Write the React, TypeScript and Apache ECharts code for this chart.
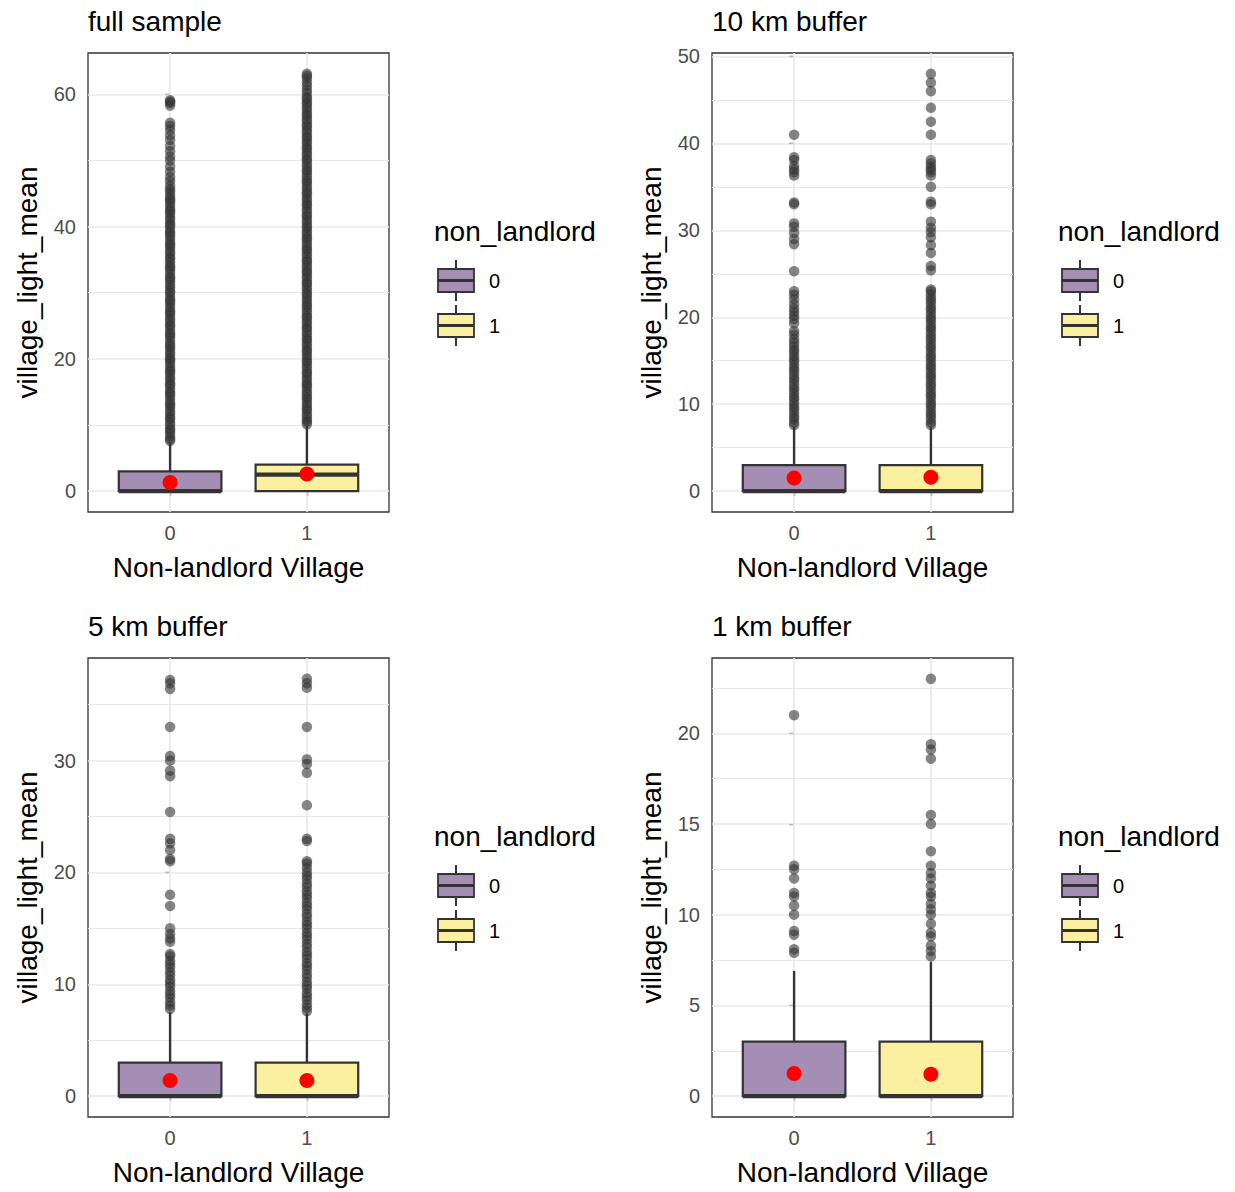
import React, { useEffect, useRef } from "react";
import * as echarts from "echarts";

// ---- data -------------------------------------------------------------
const groupLabels = ["0", "1"];
const groupColors = ["#A58EB3", "#FBF0A0"];
const panelTitles = ["full sample", "10 km buffer", "5 km buffer", "1 km buffer"];
const yTickValues = [
  [0, 20, 40, 60],
  [0, 10, 20, 30, 40, 50],
  [0, 10, 20, 30],
  [0, 5, 10, 15, 20],
];

// box statistics per group: [lower whisker, Q1, median, Q3, upper whisker]
const fullSampleBoxes = [
  [0, 0, 0, 3.0, 7.4],
  [0, 0, 2.5, 4.0, 9.9],
];
const buffer10Boxes = [
  [0, 0, 0, 3.0, 7.4],
  [0, 0, 0, 3.0, 7.4],
];
const buffer5Boxes = [
  [0, 0, 0, 3.0, 7.5],
  [0, 0, 0, 3.0, 7.4],
];
const buffer1Boxes = [
  [0, 0, 0, 3.0, 6.9],
  [0, 0, 0, 3.0, 7.4],
];

// group means
const fullSampleMeans = [1.3, 2.6];
const buffer10Means = [1.5, 1.6];
const buffer5Means = [1.4, 1.4];
const buffer1Means = [1.25, 1.2];

// outliers
const fullSampleOut0 = [
  7.6, 7.9, 8.3, 8.8, 9.2, 9.5, 10.0, 10.4, 10.9, 11.2, 11.7, 12.1, 12.6, 13.0, 13.3, 13.8, 14.3, 14.7, 15.0,
  15.5, 16.0, 16.3, 16.8, 17.2, 17.7, 18.1, 18.4, 18.9, 19.4, 19.8, 20.1, 20.6, 21.0, 21.5, 21.9, 22.2, 22.7,
  23.2, 23.6, 23.9, 24.4, 24.9, 25.2, 25.7, 26.1, 26.6, 27.0, 27.3, 27.8, 28.3, 28.7, 29.0, 29.5, 30.0, 30.3,
  30.8, 31.2, 31.7, 32.1, 32.4, 32.9, 33.4, 33.8, 34.1, 34.6, 35.1, 35.4, 35.9, 36.3, 36.8, 37.2, 37.5, 38.0,
  38.5, 38.9, 39.2, 39.7, 40.2, 40.5, 41.0, 41.4, 41.9, 42.3, 42.6, 43.1, 43.6, 44.0, 44.3, 44.8, 45.3, 45.7,
  46.2, 46.9, 47.5, 48.3, 49.1, 50.0, 50.6, 51.4, 52.2, 53.1, 53.8, 54.6, 55.2, 55.7, 58.3, 58.7, 58.9, 59.1,
];
const fullSampleOut1 = [
  10.1, 10.5, 10.8, 11.3, 11.7, 12.2, 12.5, 13.0, 13.4, 13.9, 14.2, 14.7, 15.1, 15.6, 16.0, 16.3, 16.8, 17.2,
  17.7, 18.0, 18.5, 18.9, 19.4, 19.7, 20.2, 20.6, 21.1, 21.4, 21.9, 22.3, 22.8, 23.1, 23.6, 24.0, 24.5, 24.8,
  25.3, 25.7, 26.2, 26.5, 27.0, 27.4, 27.9, 28.2, 28.7, 29.1, 29.6, 29.9, 30.4, 30.8, 31.3, 31.6, 32.1, 32.5,
  33.0, 33.3, 33.8, 34.2, 34.7, 35.0, 35.5, 35.9, 36.4, 36.7, 37.2, 37.6, 38.1, 38.4, 38.9, 39.3, 39.8, 40.1,
  40.6, 41.0, 41.5, 41.8, 42.3, 42.7, 43.2, 43.5, 44.0, 44.4, 44.9, 45.2, 45.7, 46.1, 46.6, 46.9, 47.4, 47.8,
  48.3, 48.6, 49.1, 49.5, 50.0, 50.3, 50.8, 51.2, 51.7, 52.0, 52.5, 52.9, 53.4, 53.7, 54.2, 54.6, 55.1, 55.4,
  55.9, 56.3, 56.8, 57.1, 57.6, 58.0, 58.5, 58.8, 59.3, 59.6, 60.2, 60.7, 61.3, 61.8, 62.4, 62.8, 63.1,
];
const buffer10Out0 = [
  7.6, 7.9, 8.3, 8.6, 9.0, 9.4, 9.7, 10.1, 10.5, 10.8, 11.2, 11.6, 11.9, 12.3, 12.7, 13.0, 13.4, 13.8, 14.1,
  14.5, 14.9, 15.2, 15.6, 16.0, 16.3, 16.7, 17.1, 17.5, 18.0, 18.4, 19.3, 19.8, 20.2, 20.6, 21.0, 21.5, 22.1,
  22.6, 23.0, 25.3, 28.4, 29.0, 29.7, 30.4, 30.8, 33.0, 33.2, 36.3, 36.7, 37.0, 37.4, 38.1, 38.4, 41.0,
];
const buffer10Out1 = [
  7.6, 7.9, 8.3, 8.7, 9.0, 9.4, 9.8, 10.1, 10.5, 10.9, 11.2, 11.6, 12.0, 12.3, 12.7, 13.1, 13.4, 13.8, 14.2,
  14.5, 14.9, 15.3, 15.6, 16.0, 16.4, 16.7, 17.1, 17.5, 17.8, 18.2, 18.6, 18.9, 19.3, 19.7, 20.0, 20.4, 20.8,
  21.1, 21.5, 21.9, 22.2, 22.6, 23.0, 23.2, 25.4, 25.9, 27.4, 28.3, 29.2, 29.8, 30.3, 31.0, 33.0, 33.3, 35.0,
  36.3, 36.7, 37.0, 37.3, 37.7, 38.1, 41.0, 42.5, 44.1, 46.0, 47.0, 48.0,
];
const buffer5Out0 = [
  7.8, 8.1, 8.4, 8.8, 9.1, 9.4, 9.8, 10.1, 10.4, 10.8, 11.1, 11.5, 11.8, 12.1, 12.5, 12.7, 13.8, 14.1, 14.5,
  15.0, 17.0, 18.0, 21.0, 21.2, 22.0, 22.6, 23.0, 25.4, 28.6, 29.1, 30.0, 30.4, 33.0, 36.4, 36.9, 37.2,
];
const buffer5Out1 = [
  7.6, 7.9, 8.2, 8.6, 8.9, 9.2, 9.6, 9.9, 10.2, 10.6, 10.9, 11.3, 11.6, 11.9, 12.3, 12.6, 12.9, 13.3, 13.6,
  14.0, 14.3, 14.6, 15.0, 15.3, 15.6, 16.0, 16.3, 16.7, 17.0, 17.3, 17.7, 18.0, 18.3, 18.7, 19.0, 19.4, 19.7,
  20.0, 20.4, 20.8, 21.0, 22.8, 23.0, 26.0, 28.9, 29.7, 30.1, 33.0, 36.5, 36.9, 37.3,
];
const buffer1Out0 = [7.9, 8.1, 8.9, 9.1, 10.0, 10.5, 11.0, 11.2, 12.0, 12.5, 12.7, 21.0];
const buffer1Out1 = [
  7.7, 8.0, 8.3, 8.8, 9.0, 9.5, 10.0, 10.3, 10.6, 11.0, 11.2, 11.6, 12.0, 12.3, 12.7, 13.5, 15.0, 15.5, 18.6,
  19.1, 19.4, 23.0,
];

const panelBoxes = [fullSampleBoxes, buffer10Boxes, buffer5Boxes, buffer1Boxes];
const panelMeans = [fullSampleMeans, buffer10Means, buffer5Means, buffer1Means];
const panelOutliers = [
  [fullSampleOut0, fullSampleOut1],
  [buffer10Out0, buffer10Out1],
  [buffer5Out0, buffer5Out1],
  [buffer1Out0, buffer1Out1],
];

// ---- layout / style ---------------------------------------------------
const FONT = "'Liberation Sans', Arial, Helvetica, sans-serif";
const COL_LEFT = [88, 712];
const ROW_TOP = [53, 658];
const PLOT_W = 301;
const PLOT_H = 459;
const BOX_HALF = 0.375;
const INK = "#333333";
const GRID_COLOR = "#E8E8E8";

function panelPos(i: number) {
  return { left: COL_LEFT[i % 2], top: ROW_TOP[Math.floor(i / 2)] };
}

function buildOption() {
  const grids: any[] = [];
  const xAxes: any[] = [];
  const yAxes: any[] = [];
  const series: any[] = [];
  const titles: any[] = [];
  const graphics: any[] = [];

  panelTitles.forEach((title, i) => {
    const { left, top } = panelPos(i);
    const outs = panelOutliers[i];
    const boxes = panelBoxes[i];
    const allVals = [...outs[0], ...outs[1], ...boxes.flat()];
    const lo = Math.min(...allVals);
    const hi = Math.max(...allVals);
    const pad = (hi - lo) * 0.05;
    const yMin = lo - pad;
    const yMax = hi + pad;
    const ticks = yTickValues[i];
    const step = ticks[1] - ticks[0];
    const minor: number[] = [];
    for (let k = 0; k < ticks.length + 1; k++) {
      const m = ticks[0] - step / 2 + k * step;
      if (m > yMin && m < yMax) minor.push(m);
    }

    grids.push({
      left,
      top,
      width: PLOT_W,
      height: PLOT_H,
      show: true,
      backgroundColor: "#ffffff",
      borderColor: INK,
      borderWidth: 1.3,
    });

    xAxes.push({
      gridIndex: i,
      type: "value",
      min: -0.6,
      max: 1.6,
      axisLine: { show: false },
      splitLine: { show: false },
      axisTick: {
        show: true,
        customValues: [0, 1],
        length: 5,
        lineStyle: { color: INK, width: 1.3 },
      },
      axisLabel: {
        customValues: [0, 1],
        formatter: (v: number) => groupLabels[Math.round(v)] ?? "",
        color: "#4D4D4D",
        fontSize: 20,
        fontFamily: FONT,
        margin: 11,
      },
      name: "Non-landlord Village",
      nameLocation: "middle",
      nameGap: 41,
      nameTextStyle: { fontSize: 28, color: "#000", fontFamily: FONT },
    });

    yAxes.push({
      gridIndex: i,
      type: "value",
      min: yMin,
      max: yMax,
      axisLine: { show: false },
      splitLine: { show: false },
      axisTick: {
        show: true,
        customValues: ticks,
        length: 5,
        lineStyle: { color: INK, width: 1.3 },
      },
      axisLabel: {
        customValues: ticks,
        color: "#4D4D4D",
        fontSize: 20,
        fontFamily: FONT,
        margin: 12,
      },
      name: "village_light_mean",
      nameLocation: "middle",
      nameGap: 47,
      nameTextStyle: { fontSize: 28, color: "#000", fontFamily: FONT },
    });

    // panel grid lines (kept underneath every mark)
    series.push({
      type: "scatter",
      xAxisIndex: i,
      yAxisIndex: i,
      data: [],
      z: 1,
      silent: true,
      markLine: {
        z: 1,
        silent: true,
        symbol: ["none", "none"],
        label: { show: false },
        animation: false,
        data: [
          ...minor.map((v) => ({ yAxis: v, lineStyle: { color: GRID_COLOR, width: 1, type: "solid" } })),
          ...ticks.map((v) => ({ yAxis: v, lineStyle: { color: GRID_COLOR, width: 1.6, type: "solid" } })),
          ...[0, 1].map((v) => ({ xAxis: v, lineStyle: { color: GRID_COLOR, width: 1.6, type: "solid" } })),
        ],
      },
    });

    // outliers
    outs.forEach((vals, g) => {
      series.push({
        type: "scatter",
        xAxisIndex: i,
        yAxisIndex: i,
        z: 2,
        symbol: "circle",
        symbolSize: 10.5,
        itemStyle: { color: INK, opacity: 0.6 },
        data: vals.map((v) => [g, v]),
      });
    });

    // boxes
    series.push({
      type: "custom",
      xAxisIndex: i,
      yAxisIndex: i,
      z: 3,
      encode: { x: 0, y: [1, 2, 3, 4, 5] },
      data: boxes.map((b, g) => [g, ...b]),
      renderItem: (params: any, api: any) => {
        const x = api.value(0);
        const low = api.value(1);
        const q1 = api.value(2);
        const med = api.value(3);
        const q3 = api.value(4);
        const high = api.value(5);
        const tl = api.coord([x - BOX_HALF, q3]);
        const br = api.coord([x + BOX_HALF, q1]);
        const pHigh = api.coord([x, high]);
        const pLow = api.coord([x, low]);
        const pQ3 = api.coord([x, q3]);
        const pQ1 = api.coord([x, q1]);
        const m0 = api.coord([x - BOX_HALF, med]);
        const m1 = api.coord([x + BOX_HALF, med]);
        const color = groupColors[params.dataIndex];
        return {
          type: "group",
          children: [
            {
              type: "line",
              shape: { x1: pHigh[0], y1: pHigh[1], x2: pQ3[0], y2: pQ3[1] },
              style: { stroke: INK, lineWidth: 2.4 },
            },
            {
              type: "line",
              shape: { x1: pLow[0], y1: pLow[1], x2: pQ1[0], y2: pQ1[1] },
              style: { stroke: INK, lineWidth: 2.4 },
            },
            {
              type: "rect",
              shape: { x: tl[0], y: tl[1], width: br[0] - tl[0], height: br[1] - tl[1] },
              style: { fill: color, stroke: INK, lineWidth: 2.2 },
            },
            {
              type: "line",
              shape: { x1: m0[0], y1: m0[1], x2: m1[0], y2: m1[1] },
              style: { stroke: INK, lineWidth: 4.4 },
            },
          ],
        };
      },
    });

    // group means
    series.push({
      type: "scatter",
      xAxisIndex: i,
      yAxisIndex: i,
      z: 4,
      symbol: "circle",
      symbolSize: 15,
      itemStyle: { color: "#FF0000", opacity: 1 },
      data: panelMeans[i].map((m, g) => [g, m]),
    });

    titles.push({
      text: title,
      left,
      top: top - 46,
      padding: 0,
      textStyle: { fontSize: 28, fontWeight: "normal", color: "#000", fontFamily: FONT },
    });

    // legend
    const lx = left + 346;
    const ly = top + 178;
    graphics.push({
      type: "text",
      x: lx,
      y: ly,
      style: {
        text: "non_landlord",
        fontSize: 28,
        fontFamily: FONT,
        fill: "#000",
        align: "left",
        verticalAlign: "middle",
      },
    });
    groupLabels.forEach((lab, g) => {
      const ky = ly + 38 + g * 45;
      const kx = lx + 4;
      graphics.push({
        type: "group",
        x: kx,
        y: ky,
        children: [
          { type: "line", shape: { x1: 18, y1: -9, x2: 18, y2: 0 }, style: { stroke: INK, lineWidth: 2 } },
          { type: "line", shape: { x1: 18, y1: 23, x2: 18, y2: 32 }, style: { stroke: INK, lineWidth: 2 } },
          {
            type: "rect",
            shape: { x: 0, y: 0, width: 36, height: 23 },
            style: { fill: groupColors[g], stroke: INK, lineWidth: 1.8 },
          },
          { type: "line", shape: { x1: 0, y1: 11.5, x2: 36, y2: 11.5 }, style: { stroke: INK, lineWidth: 3 } },
        ],
      });
      graphics.push({
        type: "text",
        x: lx + 55,
        y: ky + 12,
        style: {
          text: lab,
          fontSize: 20,
          fontFamily: FONT,
          fill: "#000",
          align: "left",
          verticalAlign: "middle",
        },
      });
    });
  });

  return {
    animation: false,
    backgroundColor: "#ffffff",
    title: titles,
    grid: grids,
    xAxis: xAxes,
    yAxis: yAxes,
    series,
    graphic: graphics,
  };
}

export default function App() {
  const ref = useRef<HTMLDivElement>(null);
  useEffect(() => {
    if (!ref.current) return;
    const chart = echarts.init(ref.current, undefined, { renderer: "svg" });
    chart.setOption(buildOption() as any);
    return () => chart.dispose();
  }, []);
  return (
    <div
      ref={ref}
      style={{ position: "absolute", left: 0, top: 0, width: 1235, height: 1192, background: "#fff" }}
    />
  );
}
